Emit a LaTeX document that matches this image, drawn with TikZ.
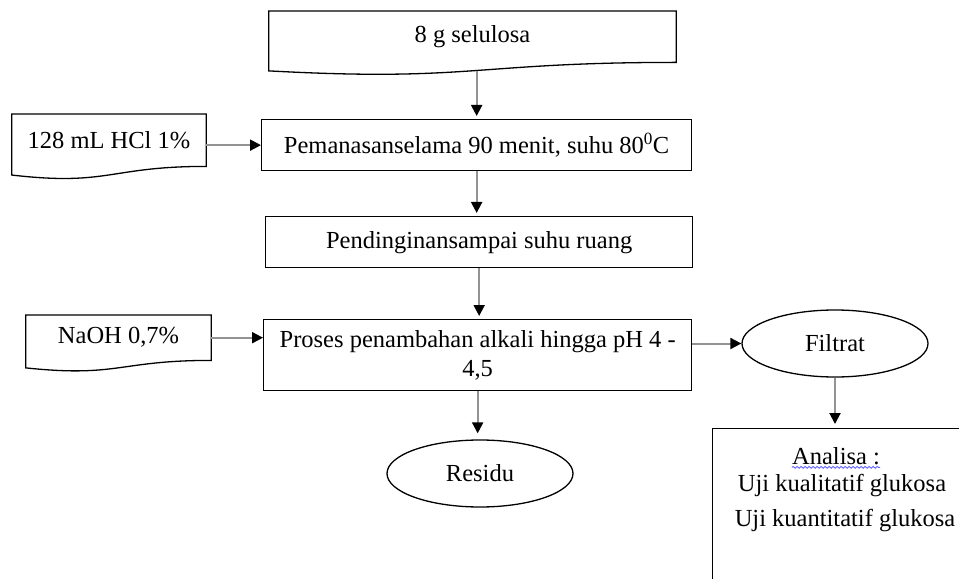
\documentclass[tikz,border=0pt]{standalone}
\usepackage{fontspec}
\setmainfont{Liberation Serif}
\usetikzlibrary{arrows.meta,calc,shapes.geometric,decorations.pathmorphing}

\begin{document}
\begin{tikzpicture}[x=1bp,y=-1bp,
  every node/.style={font=\fontsize{24.5bp}{28.5bp}\selectfont},
  procbox/.style={draw=black,line width=1.3bp,rectangle,inner sep=0pt,anchor=north west},
  docbox/.style={rectangle,inner sep=0pt,anchor=north},
  docline/.style={draw=black,line width=1.3bp},
  oval/.style={draw=black,line width=1.3bp,ellipse,inner sep=0pt,
               minimum width=186bp,minimum height=67bp},
  plain/.style={inner sep=0pt},
  flow/.style={draw=gray!85,line width=2bp,
               -{Triangle[length=11bp,width=11bp,color=black]}},
  spell/.style={draw=blue!60,line width=0.9bp,
                decorate,decoration={snake,segment length=4bp,amplitude=0.9bp}},
]
\useasboundingbox (0,0) rectangle (959,579);
\clip (0,0) rectangle (959,579);

% input materials (document shapes: node is the text area, wave drawn below)
\node[docbox,minimum width=407bp,minimum height=51bp] (sel)  at (472.5,11) {8 g selulosa};
\node[docbox,minimum width=194bp,minimum height=52bp] (hcl)  at (109,114)  {128 mL HCl 1\%};
\node[docbox,minimum width=185bp,minimum height=45bp] (naoh) at (118.5,315) {NaOH 0,7\%};

\foreach \n in {sel,hcl,naoh}{
  \draw[docline] (\n.north west) -- (\n.north east) -- (\n.south east)
    .. controls (\n.south) and ($(\n.north)!1.380!(\n.south)$)
    .. ($(\n.north west)!1.165!(\n.south west)$) -- cycle;
}
% point where the wave of the first sheet crosses its middle
\coordinate (selout) at ($(sel.north)!1.163!(sel.south)$);

% process steps
\node[procbox,minimum width=430bp,minimum height=51bp] (pem)    at (261,119)
  {Pemanasanselama 90 menit, suhu 80\textsuperscript{0}C};
\node[procbox,minimum width=427bp,minimum height=51bp] (pend)   at (265,216)
  {Pendinginansampai suhu ruang};
\node[procbox,minimum width=428bp,minimum height=71bp,align=center] (proses) at (263,319)
  {Proses penambahan alkali hingga pH 4 -\\4,5};

% products
\node[oval] (filtrat) at (835,343.5) {Filtrat};
\node[oval] (residu)  at (480,473.5) {Residu};

% analysis box
\node[procbox,minimum width=262bp,minimum height=175bp] (analisa) at (712,428) {};
\node[plain] (a1) at (836,456) {Analisa :};
\node[plain] (a2) at (842,486) {Uji kualitatif glukosa};
\node[plain] (a3) at (845,521) {Uji kuantitatif glukosa};
\draw[spell] ($(a1.base west)+(0,3)$) -- ($(a1.base east)+(0,3)$);

% connectors
\draw[flow,shorten >=3bp] (pem.north |- selout) -- (pem.north);
\draw[flow] (pem.west -| hcl.east) -- (pem.west);
\draw[flow,shorten >=3bp] (pem.south) -- (pem.south |- pend.north);
\draw[flow,shorten >=3bp] (pend.south) -- (pend.south |- proses.north);
\draw[flow] (naoh.east) -- (naoh.east -| proses.west);
\draw[flow] (filtrat.west -| proses.east) -- (filtrat.west);
\draw[flow,shorten >=6bp] (proses.south) -- (proses.south |- residu.north);
\draw[flow,shorten >=4bp] (filtrat.south) -- (filtrat.south |- analisa.north);
\end{tikzpicture}
\end{document}
